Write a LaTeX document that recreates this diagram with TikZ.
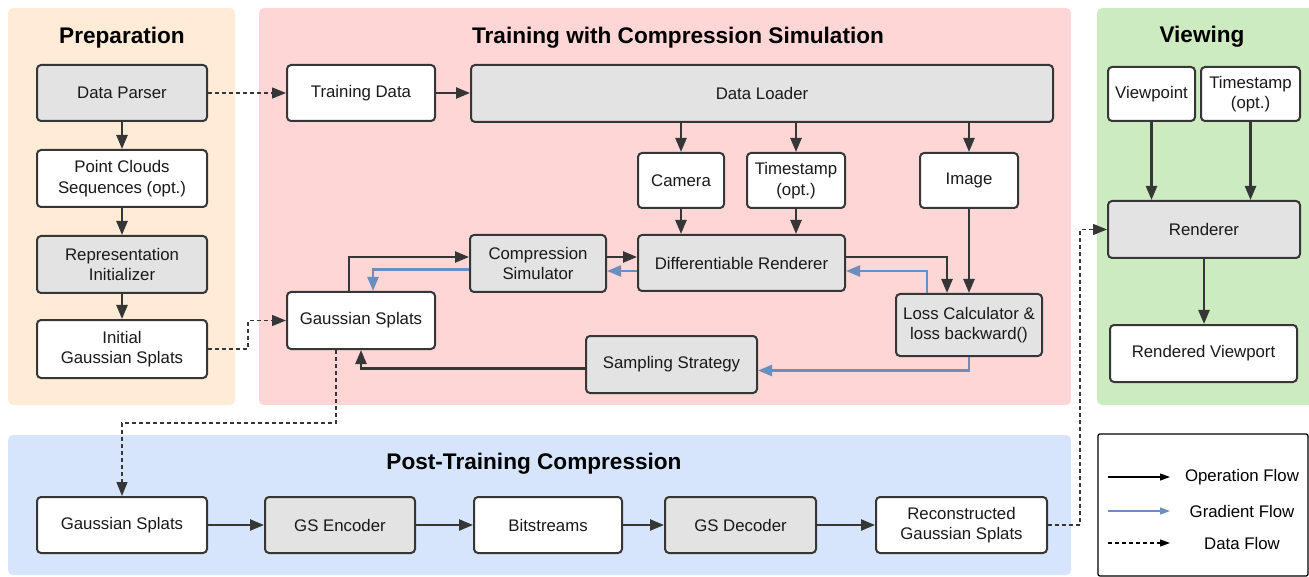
\documentclass[tikz,border=0pt]{standalone}
\usepackage{fontspec}
\setmainfont{Liberation Sans}
\usetikzlibrary{arrows.meta,positioning}
\definecolor{prepbg}{HTML}{FFEBD6}
\definecolor{trainbg}{HTML}{FFD6D6}
\definecolor{viewbg}{HTML}{CDEBC1}
\definecolor{postbg}{HTML}{D6E4FC}
\definecolor{boxgray}{HTML}{E3E3E3}
\definecolor{linec}{HTML}{363636}
\definecolor{gradc}{HTML}{6C8EBF}
\begin{document}
\begin{tikzpicture}[x=1pt,y=-1pt,
  panel/.style={rounded corners=5pt,draw=none},
  ptitle/.style={font=\fontsize{22.6}{26}\selectfont\bfseries,anchor=base,inner sep=0},
  wbox/.style={draw=linec,line width=2pt,rounded corners=4pt,fill=white,align=center,
     font=\fontsize{16.8}{20.5}\selectfont,inner sep=0,text=black!90},
  gbox/.style={wbox,fill=boxgray},
  op/.style={draw=linec,line width=2.4pt,-{Triangle[length=14pt,width=11pt]}},
  grad/.style={draw=gradc,line width=2.4pt,-{Triangle[length=14pt,width=11pt]}},
  dataf/.style={draw=linec,line width=1.3pt,dash pattern=on 4pt off 3pt,-{Triangle[length=14pt,width=11pt]}},
  legtxt/.style={font=\fontsize{16.8}{20.5}\selectfont,anchor=center,inner sep=0}
]
\useasboundingbox (0,0) rectangle (1309,577);
\clip (0,0) rectangle (1309,577);
% panels
\fill[panel,fill=prepbg] (8,8) rectangle (235,405);
\fill[panel,fill=trainbg] (259,8) rectangle (1071,405);
\fill[panel,fill=viewbg] (1097,8) rectangle (1320,405);
\fill[panel,fill=postbg] (8,435) rectangle (1071,575);
% titles
\node[ptitle] (tprep) at (122,43.5) {Preparation};
\node[ptitle] (ttrain) at (678,43.5) {Training with Compression Simulation};
\node[ptitle] (tview) at (1202,42.5) {Viewing};
\node[ptitle] (tpost) at (534,469.5) {Post-Training Compression};
% preparation
\node[gbox,minimum width=170pt,minimum height=56pt] (dp) at (122,93) {Data Parser};
\node[wbox,minimum width=170pt,minimum height=57pt] (pc) at (122,178.5) {Point Clouds\\Sequences (opt.)\rule[-2pt]{0pt}{2pt}};
\node[gbox,minimum width=170pt,minimum height=57pt] (ri) at (122,264.5) {Representation\\Initializer};
\node[wbox,minimum width=170pt,minimum height=58pt] (ig) at (122,349) {Initial\\Gaussian Splats};
% training
\node[wbox,minimum width=148pt,minimum height=56pt] (td) at (361,93) {Training Data};
\node[gbox,minimum width=582pt,minimum height=57pt] (dl) at (762,93.5) {Data Loader};
\node[wbox,minimum width=86pt,minimum height=55pt] (cam) at (681,180.5) {Camera};
\node[wbox,minimum width=98pt,minimum height=55pt] (ts) at (796,180.5) {Timestamp\\(opt.)};
\node[wbox,minimum width=98pt,minimum height=55pt] (img) at (969,180.5) {Image};
\node[gbox,minimum width=207pt,minimum height=56pt] (dr) at (741.5,263) {Differentiable Renderer};
\node[gbox,minimum width=136pt,minimum height=57pt] (cs) at (538,263.5) {Compression\\Simulator};
\node[wbox,minimum width=148pt,minimum height=57pt] (gs) at (361,320.5) {Gaussian Splats};
\node[gbox,minimum width=146pt,minimum height=62pt] (loss) at (969,325) {Loss Calculator \&\\loss backward()};
\node[gbox,minimum width=171pt,minimum height=57pt] (ss) at (671.5,364.5) {Sampling Strategy};
% post-training
\node[wbox,minimum width=170pt,minimum height=56pt] (pgs) at (122,525) {Gaussian Splats};
\node[gbox,minimum width=150pt,minimum height=56pt] (enc) at (340,525) {GS Encoder};
\node[wbox,minimum width=148pt,minimum height=56pt] (bs) at (548,525) {Bitstreams};
\node[gbox,minimum width=151pt,minimum height=56pt] (dec) at (740.5,525) {GS Decoder};
\node[wbox,minimum width=171pt,minimum height=56pt] (rec) at (961.5,525) {Reconstructed\\Gaussian Splats};
% viewing
\node[wbox,minimum width=87pt,minimum height=54pt] (vp) at (1151.5,94) {Viewpoint};
\node[wbox,minimum width=99pt,minimum height=54pt] (vts) at (1250.5,94) {Timestamp\\(opt.)};
\node[gbox,minimum width=192pt,minimum height=57pt] (ren) at (1204,229.5) {Renderer};
\node[wbox,minimum width=187pt,minimum height=57pt] (rv) at (1203.5,353.5) {Rendered Viewport};
% connectors: preparation
\draw[op] (dp.south) -- (pc.north);
\draw[op] (pc.south) -- (ri.north);
\draw[op] (ri.south) -- (ig.north);
% connectors: training
\draw[dataf] (dp.east) -- (td.west);
\draw[op] (td.east) -- (td.east -| dl.west);
\draw[op] (cam.north |- dl.south) -- (cam.north);
\draw[op] (ts.north |- dl.south) -- (ts.north);
\draw[op] (img.north |- dl.south) -- (img.north);
\draw[op] (cam.south) -- (cam.south |- dr.north);
\draw[op] (ts.south) -- (ts.south |- dr.north);
\draw[op] (img.south) -- (loss.north);
\draw[op] ([yshift=6pt]dr.east) -| ([xshift=-22pt]loss.north);
\draw[grad] ([xshift=-42pt]loss.north) |- ([yshift=-8pt]dr.east);
\draw[op] ([yshift=6.5pt]cs.east) -- ([yshift=6.5pt]cs.east -| dr.west);
\draw[grad] ([yshift=-8pt]dr.west) -- ([yshift=-8pt]dr.west -| cs.east);
\draw[op] ([xshift=-12pt]gs.north) |- ([yshift=6.5pt]cs.west);
\draw[grad] ([yshift=-6pt]cs.west) -| ([xshift=12pt]gs.north);
\draw[op] ([yshift=-4pt]ss.west) -| (gs.south);
\draw[grad] (loss.south) |- ([yshift=-6pt]ss.east);
\draw[dataf] (ig.east) -- ([xshift=40pt]ig.east) |- (gs.west);
\draw[dataf] ([xshift=-25pt]gs.south) -- ([xshift=-25pt,yshift=-73pt]gs.south) -| (pgs.north);
% post-training
\draw[op] (pgs.east) -- (enc.west);
\draw[op] (enc.east) -- (bs.west);
\draw[op] (bs.east) -- (dec.west);
\draw[op] (dec.east) -- (rec.west);
\draw[dataf] (rec.east) -- ([xshift=32pt]rec.east) |- (ren.west);
% viewing
\draw[op] (vp.south) -- (vp.south |- ren.north);
\draw[op] (vts.south) -- (vts.south |- ren.north);
\draw[op] (ren.south) -- (ren.south |- rv.north);
% legend
\node[draw=black,line width=1.3pt,rounded corners=2pt,minimum width=210pt,minimum height=142pt,inner sep=0] (leg) at (1203,505) {};
\coordinate (l1a) at (1108,477); \coordinate (l1b) at (1170,477);
\coordinate (l2a) at (1108,511); \coordinate (l2b) at (1170,511);
\coordinate (l3a) at (1108,543); \coordinate (l3b) at (1170,543);
\draw[draw=black,line width=1.2pt,-{Triangle[length=10pt,width=7pt]}] (l1a) -- (l1b);
\draw[draw=gradc,line width=1.2pt,-{Triangle[length=10pt,width=7pt]}] (l2a) -- (l2b);
\draw[draw=black,line width=1.2pt,dash pattern=on 4pt off 3pt,-{Triangle[length=10pt,width=7pt]}] (l3a) -- (l3b);
\node[legtxt] (lt1) at (1242,477) {Operation Flow};
\node[legtxt] (lt2) at (1242,511) {Gradient Flow};
\node[legtxt] (lt3) at (1242,543) {Data Flow};
\end{tikzpicture}
\end{document}
